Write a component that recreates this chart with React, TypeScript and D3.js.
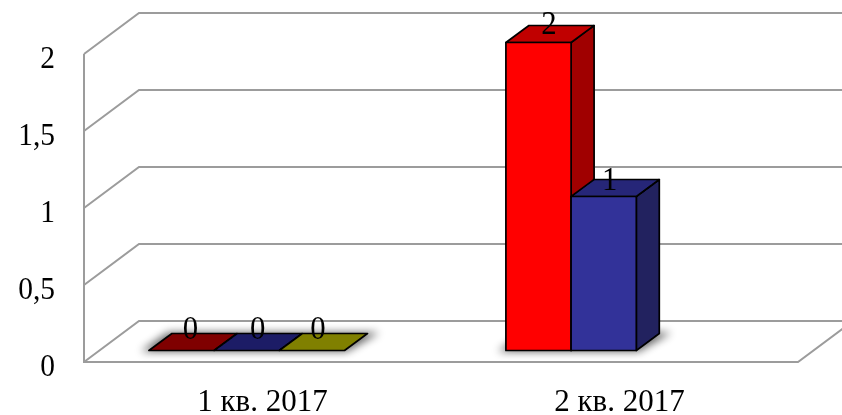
import React from "react";
import * as d3 from "d3";

const categories = ["1 кв. 2017", "2 кв. 2017"];
const seriesNames = ["Ряд 1", "Ряд 2", "Ряд 3"];
const series1 = [0, 2];
const series2 = [0, 1];
const series3: (number | null)[] = [0, null];
const yTicks = [0, 0.5, 1, 1.5, 2];
const yTickLabels = ["0", "0,5", "1", "1,5", "2"];
const frontColors = ["#ff0000", "#333399", "#808000"];
const topColors = ["#c00000", "#282878", "#808000"];
const zeroTopColors = ["#7f0000", "#1c1c66", "#808000"];
const sideColors = ["#a00000", "#23235f", "#606000"];

const W = 842, H = 415;
const FONT = "'Liberation Serif', 'Times New Roman', serif";
const GRID = "#9c9c9c";
const wall = { dx: 55, dy: -41 };
const depth = { dx: 23, dy: -17 };
const barLift = 11.5;
const y = d3.scaleLinear().domain([0, 2]).range([362, 54]);
const x = d3.scaleBand<string>().domain(categories).range([84, 798]);
const groupShift = -15.8;
const barW = 65.2;
const inner = d3.scaleBand<string>().domain(seriesNames).range([-barW * 1.5, barW * 1.5]);
const values = [series1, series2, series3];
const line = d3.line();
const poly = (pts: [number, number][]) => line(pts)! + "Z";

function Label(props: { x: number; y: number; size: number; sx: number; anchor: "middle" | "end"; children: React.ReactNode }) {
  return (
    <text
      transform={`translate(${props.x},${props.y}) scale(${props.sx},1)`}
      textAnchor={props.anchor}
      fontFamily={FONT}
      fontSize={props.size}
      fill="#000"
    >
      {props.children}
    </text>
  );
}

export default function App() {
  const marks: React.ReactNode[] = [];
  const shadows: React.ReactNode[] = [];
  const labels: React.ReactNode[] = [];
  categories.forEach((c, ci) => {
    const cx = x(c)! + x.bandwidth() / 2 + groupShift;
    const present = seriesNames.map((s, si) => ({ s, si, v: values[si][ci] })).filter((d) => d.v !== null);
    const left = cx + inner(present[0].s)!;
    const right = cx + inner(present[present.length - 1].s)! + barW;
    const by = y(0) - barLift;
    shadows.push(
      <path
        key={c}
        d={poly([
          [left - 8, by + 1],
          [right + 2, by + 1],
          [right + depth.dx + 12, by + depth.dy - 1],
          [left + depth.dx - 4, by + depth.dy - 1],
        ])}
        fill="#000"
        opacity={0.62}
        filter="url(#shadow)"
      />
    );
    present.forEach(({ s, si, v }) => {
      const x0 = cx + inner(s)!;
      const x1 = x0 + barW;
      const top = y(v as number) - barLift;
      const st = { stroke: "#000", strokeWidth: 1.7, strokeLinejoin: "round" as const };
      marks.push(
        <g key={c + s}>
          {v !== 0 && (
            <path
              d={poly([[x1, by], [x1 + depth.dx, by + depth.dy], [x1 + depth.dx, top + depth.dy], [x1, top]])}
              fill={sideColors[si]}
              {...st}
            />
          )}
          <path
            d={poly([[x0, top], [x1, top], [x1 + depth.dx, top + depth.dy], [x0 + depth.dx, top + depth.dy]])}
            fill={v === 0 ? zeroTopColors[si] : topColors[si]}
            {...st}
          />
          {v !== 0 && <rect x={x0} y={top} width={barW} height={by - top} fill={frontColors[si]} {...st} />}
        </g>
      );
      labels.push(
        <Label
          key={c + s}
          x={x0 + barW / 2 + (ci === 0 ? [9, 11, 6][si] : [10.5, 6][si])}
          y={top + depth.dy + (ci === 0 ? 5.5 : [8, 10][si])}
          size={33.5}
          sx={0.92}
          anchor="middle"
        >
          {v}
        </Label>
      );
    });
  });

  return (
    <svg
      width={W}
      height={H}
      viewBox={`0 0 ${W} ${H}`}
      style={{ position: "absolute", left: 0, top: 0, display: "block", background: "#fff" }}
    >
      <defs>
        <filter id="shadow" x="-30%" y="-100%" width="160%" height="300%">
          <feGaussianBlur stdDeviation="4" />
        </filter>
        <filter id="soft" filterUnits="userSpaceOnUse" x="0" y="0" width={W} height={H}>
          <feGaussianBlur stdDeviation="0.4" />
        </filter>
      </defs>
      <g filter="url(#soft)">
        <g fill="none" stroke={GRID} strokeWidth={2}>
          {yTicks.map((t) => (
            <path
              key={t}
              d={line([
                [84, y(t)],
                [84 + wall.dx, y(t) + wall.dy],
                [798 + wall.dx, y(t) + wall.dy],
              ])!}
            />
          ))}
          <path d={line([[84, y(2)], [84, y(0)], [798, y(0)], [798 + wall.dx, y(0) + wall.dy]])!} />
        </g>
        {shadows}
        {marks}
        {labels}
        {yTicks.map((t, i) => (
          <Label key={t} x={55} y={y(t) + 13.5} size={32} sx={0.92} anchor="end">
            {yTickLabels[i]}
          </Label>
        ))}
        {categories.map((c) => (
          <Label key={c} x={x(c)! + x.bandwidth() / 2} y={411} size={32} sx={0.97} anchor="middle">
            {c}
          </Label>
        ))}
      </g>
    </svg>
  );
}
